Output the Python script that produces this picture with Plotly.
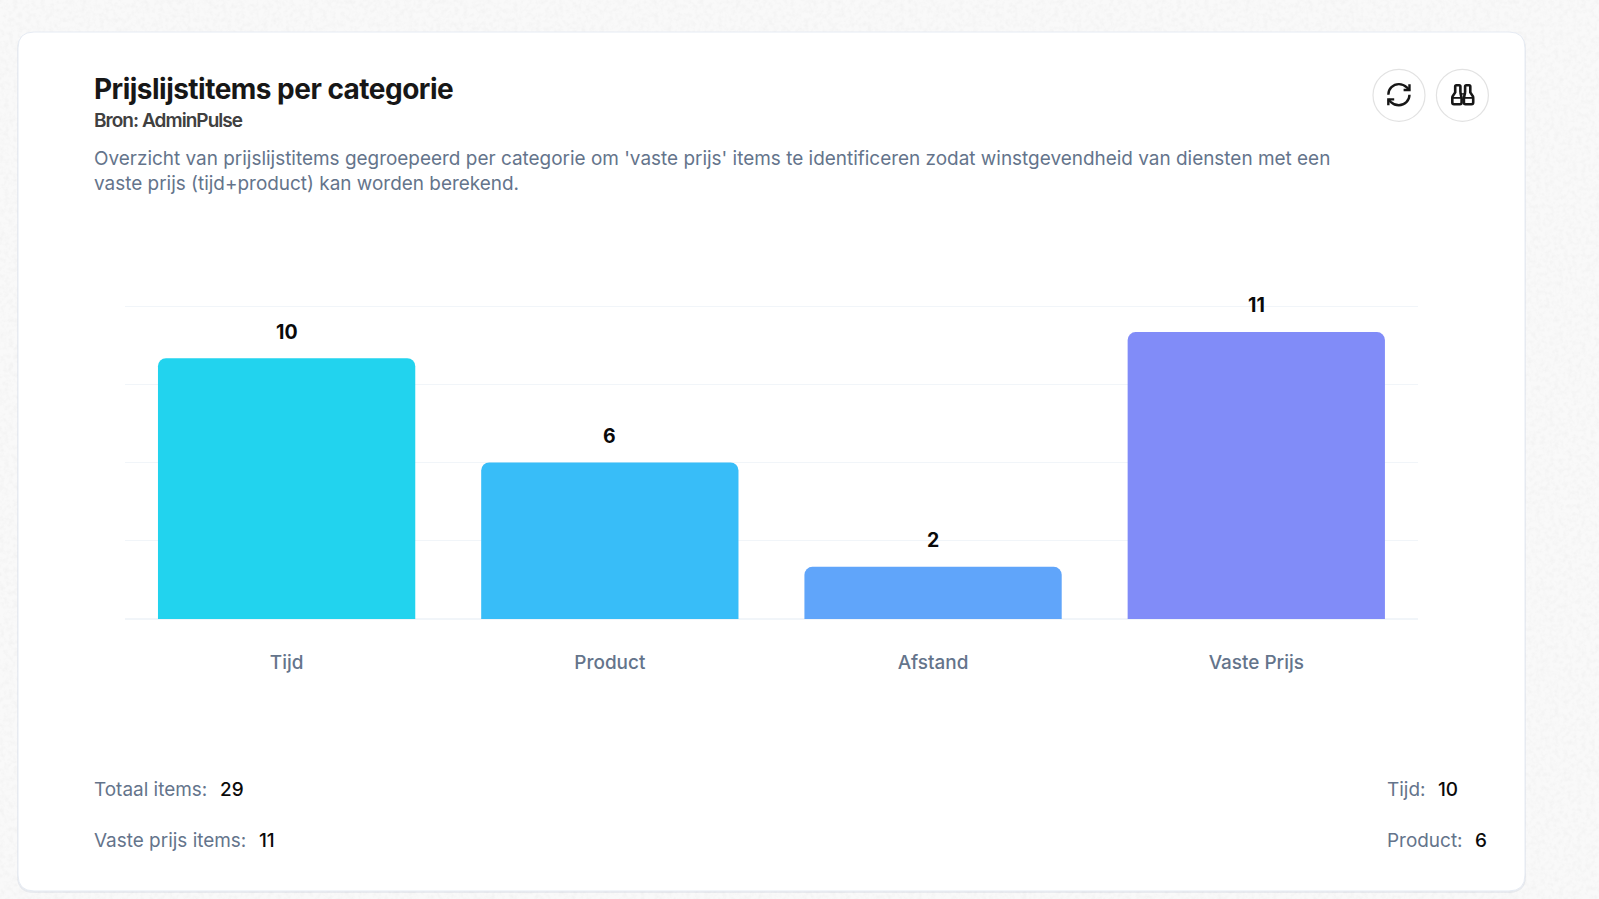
import plotly.graph_objects as go

categories = ["Tijd", "Product", "Afstand", "Vaste Prijs"]
item_counts = [10, 6, 2, 11]
bar_colors = ["#22d3ee", "#38bdf8", "#60a5fa", "#818cf8"]
y_ticks = [0, 3, 6, 9, 12]
title_text = "Prijslijstitems per categorie"
source_text = "Bron: AdminPulse"
description_lines = [
    "Overzicht van prijslijstitems gegroepeerd per categorie om 'vaste prijs' items te identificeren zodat winstgevendheid van diensten met een",
    "vaste prijs (tijd+product) kan worden berekend.",
]
summary_left = [("Totaal items:", 29), ("Vaste prijs items:", 11)]
summary_right = [("Tijd:", 10), ("Product:", 6)]

W, H = 1599, 899
FONT = "Inter, 'Noto Sans', sans-serif"


def fx(px):
    return px / W


def fy(py):
    return 1 - py / H


def P(cmds):
    """Build an SVG path in paper coordinates from pixel commands."""
    out = []
    for c in cmds:
        op, pts = c[0], c[1:]
        out.append(op + " ".join(f"{fx(pts[i]):.5f},{fy(pts[i+1]):.5f}" for i in range(0, len(pts), 2)))
    return " ".join(out)


def round_rect(x0, y0, x1, y1, r):
    return P([
        ("M", x0 + r, y0), ("L", x1 - r, y0), ("Q", x1, y0, x1, y0 + r),
        ("L", x1, y1 - r), ("Q", x1, y1, x1 - r, y1), ("L", x0 + r, y1),
        ("Q", x0, y1, x0, y1 - r), ("L", x0, y0 + r), ("Q", x0, y0, x0 + r, y0),
    ]) + " Z"


def circle(cx, cy, r, line, width):
    return dict(type="circle", xref="paper", yref="paper", x0=fx(cx - r), x1=fx(cx + r),
                y0=fy(cy + r), y1=fy(cy - r), line=dict(color=line, width=width),
                fillcolor="#ffffff", layer="below")


def icon_path(d, ox, oy, s, color="#171717", w=2.4):
    pts = []
    for c in d:
        op, vals = c[0], c[1:]
        pts.append((op, *[ox + v * s if i % 2 == 0 else oy + v * s for i, v in enumerate(vals)]))
    return dict(type="path", xref="paper", yref="paper", path=P(pts), layer="above",
                line=dict(color=color, width=w), fillcolor="rgba(0,0,0,0)")


def label(x, y, text, size, color, weight=400, anchor="left", spacing=None):
    if spacing is not None:
        text = f'<span style="letter-spacing:{spacing}px">{text}</span>'
    return dict(xref="paper", yref="paper", x=fx(x), y=fy(y), text=text, showarrow=False,
                xanchor=anchor, yanchor="middle", align=anchor,
                font=dict(family=FONT, size=size, color=color, weight=weight),
                borderpad=0, borderwidth=0)


shapes = [
    dict(type="path", xref="paper", yref="paper", path=round_rect(17, 33, 1526, 893, 17),
         fillcolor="rgba(148,163,184,0.16)", line=dict(width=0), layer="below"),
    dict(type="path", xref="paper", yref="paper", path=round_rect(18, 32, 1525, 891, 16),
         fillcolor="#ffffff", line=dict(color="#e6ebf3", width=1), layer="below"),
    circle(1399, 95.3, 26, "#e2e2e2", 1.2),
    circle(1462.4, 95.3, 26, "#e2e2e2", 1.2),
]

# refresh icon
ROX, ROY, RS = 1384.8, 80.6, 1.175
shapes += [
    icon_path([("M", 3, 12), ("C", 3, 7.03, 7.03, 3, 12, 3), ("C", 14.5, 3, 16.9, 4, 18.74, 5.74), ("L", 21, 8)], ROX, ROY, RS),
    icon_path([("M", 21, 3), ("L", 21, 8), ("L", 16, 8)], ROX, ROY, RS),
    icon_path([("M", 21, 12), ("C", 21, 16.97, 16.97, 21, 12, 21), ("C", 9.5, 21, 7.1, 20, 5.26, 18.26), ("L", 3, 16)], ROX, ROY, RS),
    icon_path([("M", 8, 16), ("L", 3, 16), ("L", 3, 21)], ROX, ROY, RS),
]

# binoculars icon
BOX, BOY, BS = 1451.6, 84.4, 1.0
barrel_left = [("M", 8.8, 8), ("L", 8.8, 2), ("Q", 8.8, 0.8, 7.6, 0.8), ("L", 4.8, 0.8), ("Q", 3.6, 0.8, 3.6, 2), ("L", 3.6, 8),
               ("L", 1, 12), ("Q", 0.7, 12.6, 0.7, 13.5), ("L", 0.7, 18.2), ("Q", 0.7, 19.8, 2.4, 19.8), ("L", 8.4, 19.8),
               ("Q", 10, 19.8, 10, 18.2), ("L", 10, 13.5), ("L", 8.8, 8)]
barrel_right = [("M", 13.5, 8), ("L", 13.5, 2), ("Q", 13.5, 0.8, 14.7, 0.8), ("L", 17.5, 0.8), ("Q", 18.7, 0.8, 18.7, 2), ("L", 18.7, 8),
                ("L", 21.3, 12), ("Q", 21.6, 12.6, 21.6, 13.5), ("L", 21.6, 18.2), ("Q", 21.6, 19.8, 19.9, 19.8), ("L", 13.9, 19.8),
                ("Q", 12.3, 19.8, 12.3, 18.2), ("L", 12.3, 13.5), ("L", 13.5, 8)]
shapes += [
    icon_path(barrel_left, BOX, BOY, BS, w=2.6),
    icon_path(barrel_right, BOX, BOY, BS, w=2.6),
    icon_path([("M", 9.4, 9.5), ("L", 12.9, 9.5)], BOX, BOY, BS, w=1.4),
    icon_path([("M", 10, 15), ("L", 12.3, 15)], BOX, BOY, BS, w=1.4),
    icon_path([("M", 0.7, 13.5), ("L", 10, 13.5)], BOX, BOY, BS, w=1.8),
    icon_path([("M", 12.3, 13.5), ("L", 21.6, 13.5)], BOX, BOY, BS, w=1.8),
]

annotations = [
    label(94, 89, title_text, 28, "#171717", 700, spacing=-0.52),
    label(94, 120.5, source_text, 19, "#404040", 600, spacing=-0.95),
]
for i, line in enumerate(description_lines):
    annotations.append(label(94, 158.5 + i * 25.2, line, 18.95, "#64748b"))

for i, (name, val) in enumerate(summary_left):
    annotations.append(label(94, 789.5 + i * 51, name, 18.95, "#64748b"))
for (name, val), vx, vy in zip(summary_left, [220, 258.5], [789.5, 840.5]):
    annotations.append(label(vx, vy, str(val), 18.95, "#0a0a0a", 500))
for i, (name, val) in enumerate(summary_right):
    annotations.append(label(1387, 789.5 + i * 51, name, 18.95, "#64748b"))
for (name, val), vx, vy in zip(summary_right, [1438, 1475.2], [789.5, 840.5]):
    annotations.append(label(vx, vy, str(val), 18.95, "#0a0a0a", 500))

for cat, val in zip(categories, item_counts):
    annotations.append(dict(x=cat, y=val, xref="x", yref="y", text=str(val), showarrow=False,
                            yanchor="middle", xanchor="center", yshift=26.6,
                            font=dict(family=FONT, size=19.5, color="#0a0a0a", weight=650)))

fig = go.Figure(go.Bar(
    x=categories, y=item_counts,
    marker=dict(color=bar_colors, line=dict(width=0), cornerradius=8),
    hoverinfo="x+y",
))

fig.update_layout(
    width=W, height=H,
    margin=dict(l=0, r=0, t=0, b=0),
    paper_bgcolor="rgba(0,0,0,0)",
    plot_bgcolor="rgba(0,0,0,0)",
    showlegend=False,
    bargap=0.204,
    shapes=shapes,
    annotations=annotations,
    font=dict(family=FONT),
    xaxis=dict(
        domain=[fx(125.0), fx(1417.9)],
        showgrid=False, zeroline=False, showline=False, ticks="",
        ticklabelstandoff=30,
        tickfont=dict(family=FONT, size=18.95, color="#64748b", weight=500),
    ),
    yaxis=dict(
        domain=[fy(619), fy(304)],
        range=[0, 12 + 2 / (313 / 12)], tickvals=y_ticks, showticklabels=False,
        gridcolor="#f1f5f9", gridwidth=1.2, zeroline=True, zerolinecolor="#f1f5f9", zerolinewidth=2,
    ),
)

texture = (
    "data:image/svg+xml;utf8,<svg xmlns='http://www.w3.org/2000/svg' width='1599' height='899'>"
    "<filter id='n' x='0' y='0' width='100%25' height='100%25'>"
    "<feTurbulence type='fractalNoise' baseFrequency='0.22' numOctaves='3' seed='4'/>"
    "<feColorMatrix values='0 0 0 0 0.9 0 0 0 0 0.9 0 0 0 0 0.9 2.4 0 0 0 -0.95'/></filter>"
    "<rect width='100%25' height='100%25' fill='%23f9f9f9'/>"
    "<rect width='100%25' height='100%25' filter='url(%23n)'/></svg>"
)
fig.write_html(
    "out.html",
    config={"displayModeBar": False},
    post_script=(
        "document.body.style.margin='0';document.body.style.overflow='hidden';"
        f"document.body.style.background=\"url(\\\"{texture}\\\")\";"
    ),
)
